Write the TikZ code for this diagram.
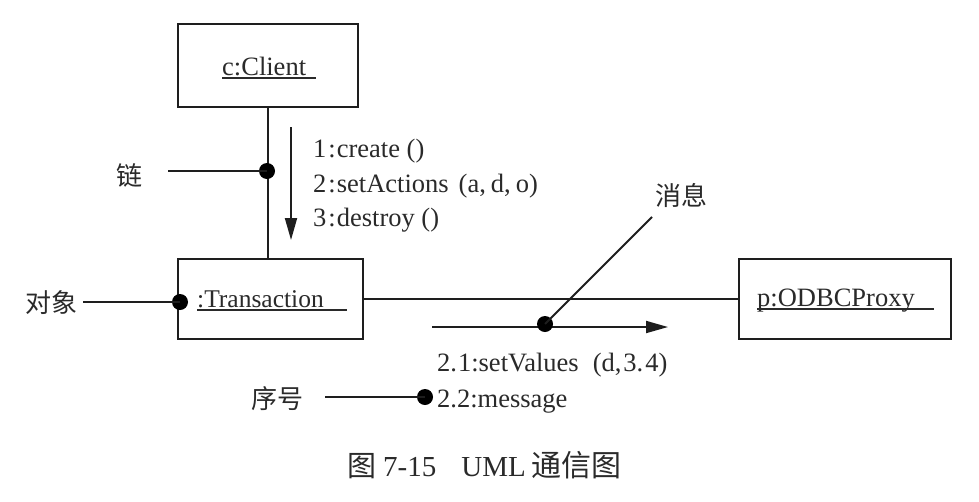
\documentclass[tikz,border=0pt]{standalone}
\usepackage{fontspec}
\setmainfont{Liberation Serif}
\newfontfamily\cjk{Noto Sans CJK SC}
\usetikzlibrary{arrows.meta}
\definecolor{linec}{HTML}{1E1E1E}
\definecolor{textc}{HTML}{2A2A2A}
\begin{document}
\begin{tikzpicture}[x=1pt,y=-1pt,
  objbox/.style={draw=linec, line width=1.7pt, inner sep=0pt, fill=none},
  link/.style={draw=linec, line width=1.8pt},
  uline/.style={draw=textc, line width=1.3pt},
  msgarrow/.style={draw=linec, line width=1.8pt, -{Triangle[length=22pt,width=12pt]}},
  dotc/.style={circle, fill=black, inner sep=0pt, minimum size=16pt},
  txt/.style={font=\fontsize{26.5}{30}\selectfont, text=textc, inner sep=0pt, anchor=base west},
  cjktxt/.style={font=\cjk\fontsize{26}{30}\selectfont, text=textc, inner sep=0pt}]
\useasboundingbox[fill=white] (0,0) rectangle (979,501);

% objects
\node[objbox, minimum width=180pt, minimum height=83pt] (client) at (268,65.5) {};
\node[objbox, minimum width=185pt, minimum height=80pt] (trans) at (270.5,299) {};
\node[objbox, minimum width=212pt, minimum height=80pt] (odbc) at (845,299) {};

\node[txt] (ctext) at (222,75) {c:Client};
\node[txt, font=\fontsize{25.5}{30}\selectfont] (ttext) at (197,307) {:Transaction};
\node[txt] (ptext) at (757,306) {p:ODBCProxy};
\coordinate (cu1) at (222,78); \coordinate (cu2) at (316,78);
\coordinate (tu1) at (197,310); \coordinate (tu2) at (347,310);
\coordinate (pu1) at (757,309); \coordinate (pu2) at (934,309);
\draw[uline] (cu1) -- (cu2);
\draw[uline] (tu1) -- (tu2);
\draw[uline] (pu1) -- (pu2);

% links
\draw[link] (client.south) -- (client.south |- trans.north);
\draw[link] (trans.east) -- (odbc.west);

% messages
\coordinate (a1s) at (291,127); \coordinate (a1e) at (291,240);
\draw[msgarrow] (a1s) -- (a1e);
\node[txt] (m1) at (313,157) {1\kern2pt:\kern1pt create ()};
\node[txt] (m2) at (313,192) {2\kern2pt:\kern1pt setActions\hspace{10pt}(a,\kern5pt d,\kern5pt o)};
\node[txt] (m3) at (313,226) {3\kern2pt:\kern1pt destroy ()};

\coordinate (a2s) at (432,327); \coordinate (a2e) at (668,327);
\draw[msgarrow] (a2s) -- (a2e);
\node[txt] (m21) at (437,371) {2.\kern1pt 1:setValues\hspace{14pt}(d,\kern2pt 3.\kern2pt 4)};
\node[txt] (m22) at (437,407) {2.2:message};

% annotation dots
\node[dotc] (dlink) at (267,171) {};
\node[dotc] (dobj) at (180,302) {};
\node[dotc] (dmsg) at (545,324) {};
\node[dotc] (dseq) at (425,397) {};

% annotation labels
\node[cjktxt] (llink) at (129,175) {链};
\node[cjktxt] (lobj) at (51,303) {对象};
\node[cjktxt] (lmsg) at (681,195) {消息};
\node[cjktxt] (lseq) at (277,399) {序号};

\coordinate (llinkend) at (168,171);
\coordinate (lobjend) at (83,302);
\coordinate (lmsgend) at (652,217);
\coordinate (lseqend) at (325,397);
\draw[link] (llinkend) -- (dlink.center);
\draw[link] (lobjend) -- (dobj.center);
\draw[link] (lmsgend) -- (dmsg.center);
\draw[link] (lseqend) -- (dseq.center);

% caption
\node[txt, font=\fontsize{29}{32}\selectfont] (cap) at (347,476) {{\cjk 图}\hspace{7pt}7-15\hspace{25pt}UML\hspace{6pt}{\cjk\fontsize{30}{32}\selectfont 通信图}};
\end{tikzpicture}
\end{document}
